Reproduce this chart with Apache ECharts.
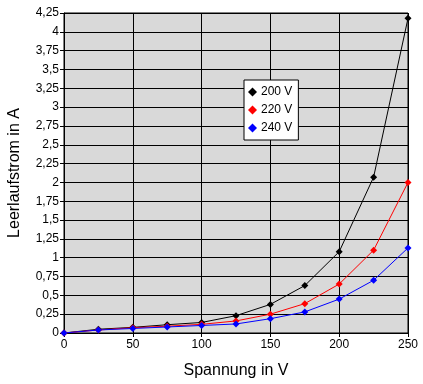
<!DOCTYPE html>
<html><head><meta charset="utf-8">
<script src="https://cdn.jsdelivr.net/npm/echarts@6/dist/echarts.min.js"></script>
<style>html,body{margin:0;padding:0;background:#fff}#c{width:423px;height:384px}</style>
</head><body><div id="c"></div>
<script>
const voltages = [0, 25, 50, 75, 100, 125, 150, 175, 200, 225, 250];
const s200 = [0, 0.05, 0.075, 0.11, 0.14, 0.23, 0.38, 0.63, 1.08, 2.07, 4.18];
const s220 = [0, 0.04, 0.07, 0.09, 0.115, 0.16, 0.25, 0.39, 0.65, 1.10, 2.00];
const s240 = [0, 0.04, 0.06, 0.08, 0.10, 0.12, 0.19, 0.28, 0.45, 0.70, 1.13];
const seriesNames = ['200 V', '220 V', '240 V'];
const seriesColors = ['#000000', '#ff0000', '#0000ff'];

const font = 'Liberation Sans, Arial, sans-serif';
const chart = echarts.init(document.getElementById('c'), null, {renderer: 'canvas'});
const mk = (name, vals, color) => ({
  name: name, type: 'line',
  data: voltages.map((v, i) => [v, vals[i]]),
  symbol: 'diamond', symbolSize: 7,
  lineStyle: {color: color, width: 1},
  itemStyle: {color: color},
  animation: false
});
chart.setOption({
  animation: false,
  grid: {left: 64, right: 15, top: 13, bottom: 51, show: true, backgroundColor: '#d9d9d9', borderColor: '#000', borderWidth: 1, containLabel: false, outerBoundsMode: 'none'},
  legend: {
    orient: 'vertical', left: 244, top: 80,
    backgroundColor: '#fff', borderColor: '#000', borderWidth: 1,
    padding: [6, 6, 6, 4], itemWidth: 9, itemHeight: 9, itemGap: 6,
    icon: 'diamond',
    textStyle: {fontFamily: font, fontSize: 12, color: '#000', padding: [0,0,0,-1]},
    data: seriesNames
  },
  xAxis: {
    type: 'value', min: 0, max: 250, interval: 50,
    name: 'Spannung in V', nameLocation: 'middle', nameGap: 30,
    nameTextStyle: {fontFamily: font, fontSize: 16, color: '#000'},
    axisLine: {lineStyle: {color: '#000', width: 1}},
    axisTick: {show: true, length: 4, lineStyle: {color: '#000'}},
    axisLabel: {fontFamily: font, fontSize: 12, color: '#000', margin: 6},
    splitLine: {show: true, lineStyle: {color: '#000', width: 1}}
  },
  yAxis: {
    type: 'value', min: 0, max: 4.25, interval: 0.25,
    name: 'Leerlaufstrom in A', nameLocation: 'middle', nameGap: 41, nameRotate: 90,
    nameTextStyle: {fontFamily: font, fontSize: 16, color: '#000'},
    axisLine: {show: true, lineStyle: {color: '#000', width: 1}},
    axisTick: {show: true, length: 4, lineStyle: {color: '#000'}},
    axisLabel: {fontFamily: font, fontSize: 12, color: '#000', margin: 5,
      formatter: v => String(Math.round(v * 100) / 100).replace('.', ',')},
    splitLine: {show: true, lineStyle: {color: '#000', width: 1}}
  },
  series: [mk(seriesNames[0], s200, seriesColors[0]), mk(seriesNames[1], s220, seriesColors[1]), mk(seriesNames[2], s240, seriesColors[2])]
});
</script></body></html>
